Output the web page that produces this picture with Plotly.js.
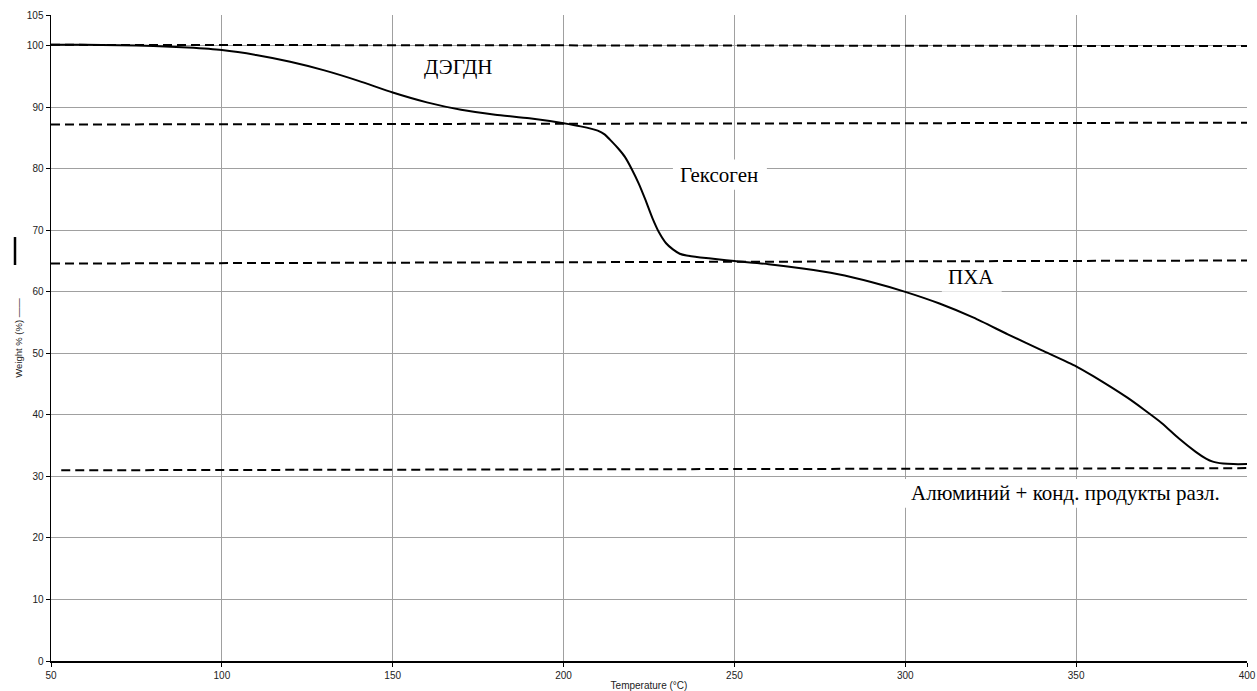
<!DOCTYPE html>
<html>
<head>
<meta charset="utf-8">
<script src="https://cdn.plot.ly/plotly-3.0.1.min.js"></script>
<style>html,body{margin:0;padding:0;background:#fff;}#chart{width:1257px;height:691px;}</style>
</head>
<body>
<div id="chart"></div>
<script>
// TGA curve: temperature (°C) vs weight (%)
var temperature = [50,60,70,80,90,100,110,120,130,140,150,160,170,180,190,200,205,210,212,214,216,218,220,222,224,226,228,230,232,234,236,240,245,250,260,270,280,290,300,310,320,330,340,350,355,360,365,370,375,380,385,388,390,393,396,400];
var weight = [100.15,100.15,100.1,99.95,99.7,99.3,98.5,97.4,96.0,94.3,92.4,90.8,89.6,88.8,88.2,87.4,86.9,86.2,85.6,84.5,83.3,81.9,79.9,77.6,74.9,72.0,69.6,67.9,66.9,66.2,65.9,65.6,65.3,65.0,64.5,63.8,62.9,61.6,60.0,58.1,55.8,53.1,50.5,47.9,46.3,44.6,42.8,40.8,38.7,36.2,34.0,32.9,32.4,32.1,32.0,32.0];

// Step levels (dashed reference lines)
var levelNames = ["ДЭГДН", "Гексоген", "ПХА", "Алюминий + конд. продукты разл."];
var levelXStart = [50, 50, 50, 53];
var levelXEnd = [400, 400, 400, 400];
var levelYStart = [100.15, 87.2, 64.6, 31.0];
var levelYEnd = [99.95, 87.5, 65.1, 31.35];

// Label positions (data coords) and their white backing boxes
var labelX = [169.2, 245.5, 319.2, 347.0];
var labelY = [96.6, 79.0, 62.4, 27.3];
var boxX0 = [152.3, 232.0, 310.7, 297.9];
var boxX1 = [185.9, 259.5, 328.2, 405];
var boxY0 = [94.0, 76.6, 60.0, 24.9];
var boxY1 = [99.0, 81.5, 64.4, 29.6];

var xTicks = [50,100,150,200,250,300,350,400];
var yTicks = [0,10,20,30,40,50,60,70,80,90,100,105];

var traces = [];
for (var i = 0; i < levelNames.length; i++) {
  traces.push({
    x: [levelXStart[i], levelXEnd[i]],
    y: [levelYStart[i], levelYEnd[i]],
    mode: 'lines',
    line: {color: '#000', width: 2, dash: '9px,5px'},
    hoverinfo: 'skip',
    cliponaxis: false
  });
}
traces.push({
  x: temperature,
  y: weight,
  mode: 'lines',
  line: {color: '#000', width: 2, shape: 'spline', smoothing: 0.6},
  name: 'Weight %'
});

var shapes = [];
var annotations = [];
for (var j = 0; j < levelNames.length; j++) {
  shapes.push({
    type: 'rect', xref: 'x', yref: 'y',
    x0: boxX0[j], x1: boxX1[j], y0: boxY0[j], y1: boxY1[j],
    fillcolor: '#fff', line: {width: 0}, layer: 'above'
  });
  annotations.push({
    x: labelX[j], y: labelY[j], xref: 'x', yref: 'y',
    text: levelNames[j], showarrow: false,
    xanchor: 'center', yanchor: 'middle',
    font: {family: 'Liberation Serif, Times New Roman, serif', size: 21, color: '#000'}
  });
}
// legend-like line sample beside the y-axis title
shapes.push({
  type: 'line', xref: 'paper', yref: 'paper',
  x0: -0.0301, x1: -0.0301, y0: 0.613, y1: 0.6563,
  line: {color: '#000', width: 2.5}
});

var layout = {
  width: 1257, height: 691,
  margin: {l: 51, r: 10, t: 15, b: 30, pad: 0},
  paper_bgcolor: '#fff', plot_bgcolor: '#fff',
  showlegend: false,
  hovermode: false,
  font: {family: 'Liberation Sans, Arial, sans-serif', size: 10, color: '#222'},
  xaxis: {
    range: [50, 400], tickvals: xTicks, ticktext: xTicks.map(String),
    showgrid: true, gridcolor: '#a0a0a0', gridwidth: 1,
    showline: true, linecolor: '#000', linewidth: 1.5,
    ticks: 'outside', ticklen: 4, tickcolor: '#000', tickwidth: 1,
    zeroline: false, automargin: false,
    tickfont: {size: 10, color: '#222'},
    title: {text: 'Temperature (°C)', font: {size: 10, color: '#222'}, standoff: 2}
  },
  yaxis: {
    range: [0, 105], tickvals: yTicks, ticktext: yTicks.map(String),
    showgrid: true, gridcolor: '#a0a0a0', gridwidth: 1,
    showline: true, linecolor: '#000', linewidth: 1.5,
    ticks: 'outside', ticklen: 4, tickcolor: '#000', tickwidth: 1,
    zeroline: false, automargin: false,
    tickfont: {size: 10, color: '#222'},
    title: {text: 'Weight % (%) \u2014\u2014', font: {size: 9.5, color: '#222'}, standoff: 2}
  },
  shapes: shapes,
  annotations: annotations
};

Plotly.newPlot('chart', traces, layout, {staticPlot: true, displayModeBar: false});
</script>
</body>
</html>
